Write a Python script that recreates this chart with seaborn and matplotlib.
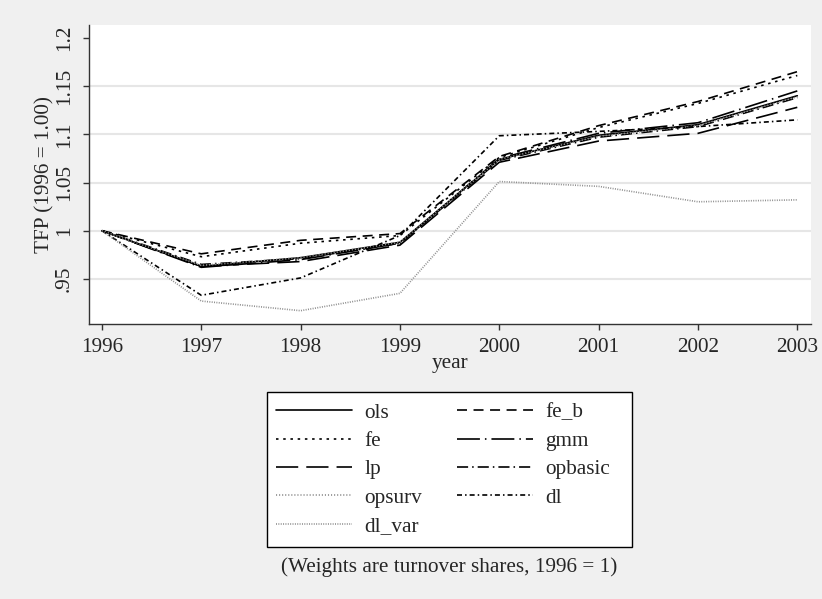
import pandas as pd
import matplotlib.pyplot as plt
import seaborn as sns
from matplotlib.lines import Line2D
from matplotlib.patches import Rectangle

# Данные: индексы TFP по моделям (1996 = 1.00)
years = [1996, 1997, 1998, 1999, 2000, 2001, 2002, 2003]
ols = [1.000, 0.963, 0.972, 0.988, 1.074, 1.099, 1.110, 1.140]
fe_b = [1.000, 0.976, 0.990, 0.997, 1.077, 1.109, 1.134, 1.165]
fe = [1.000, 0.973, 0.987, 0.995, 1.076, 1.107, 1.132, 1.161]
gmm = [1.000, 0.962, 0.970, 0.987, 1.075, 1.101, 1.112, 1.145]
lp = [1.000, 0.963, 0.968, 0.985, 1.071, 1.093, 1.101, 1.128]
opbasic = [1.000, 0.965, 0.971, 0.987, 1.073, 1.097, 1.108, 1.138]
opsurv = [1.000, 0.964, 0.972, 0.988, 1.074, 1.098, 1.109, 1.139]
dl = [1.000, 0.933, 0.951, 0.995, 1.0985, 1.103, 1.108, 1.115]
dl_var = [1.000, 0.927, 0.917, 0.935, 1.051, 1.046, 1.030, 1.032]

series = {'ols': ols, 'fe_b': fe_b, 'fe': fe, 'gmm': gmm, 'lp': lp,
          'opbasic': opbasic, 'opsurv': opsurv, 'dl': dl, 'dl_var': dl_var}
df = pd.DataFrame([[y, k, v] for k, vals in series.items() for y, v in zip(years, vals)],
                  columns=['year', 'model', 'tfp'])

# Стиль линий (в пунктах)
dashes = {'ols': '', 'fe_b': (7.2, 4.7), 'fe': (1.8, 3.4), 'gmm': (16.5, 3.6, 1.1, 3.6),
          'lp': (16, 5.8), 'opbasic': (8, 2.9, 1.1, 2.9), 'opsurv': (0.8, 1.4),
          'dl': (3.6, 2.2, 1.1, 2.2), 'dl_var': (0.7, 1.0)}
colors = {k: 'black' for k in series}
colors['opsurv'] = '#8c8c8c'
colors['dl_var'] = '#8c8c8c'

FS = 15.3

sns.set_theme(style='white')
plt.rcParams['font.family'] = ['Liberation Serif', 'DejaVu Serif']
plt.rcParams['lines.scale_dashes'] = False
plt.rcParams['axes.unicode_minus'] = False

fig = plt.figure(figsize=(8.22, 5.99), dpi=100, facecolor='#f0f0f0')
ax = fig.add_axes([89 / 822, 1 - 324 / 599, (810.7 - 89) / 822, (324 - 25) / 599])
ax.set_facecolor('white')

sns.lineplot(data=df, x='year', y='tfp', hue='model', style='model',
             hue_order=list(series), style_order=list(series),
             palette=colors, dashes=dashes, linewidth=1.2, ax=ax, legend=False)

ax.set_xlim(1995.87, 2003.135)
ax.set_ylim(0.9032, 1.2134)
yt = [0.95, 1.0, 1.05, 1.1, 1.15, 1.2]
ax.set_yticks(yt)
ax.set_yticklabels(['.95', '1', '1.05', '1.1', '1.15', '1.2'], rotation=90, va='center')
ax.set_xticks(years)
ax.set_xticklabels([str(y) for y in years])
ax.tick_params(axis='both', labelsize=FS, length=4, width=1, color='#333333',
               direction='out', left=True, bottom=True)
ax.tick_params(axis='y', pad=7)
ax.tick_params(axis='x', pad=6)
ax.yaxis.grid(True, color='#e6e6e6', linewidth=1.5)
ax.get_ygridlines()[-1].set_visible(False)
ax.set_axisbelow(True)
for s in ['top', 'right']:
    ax.spines[s].set_visible(False)
for s in ['left', 'bottom']:
    ax.spines[s].set_color('#333333')
    ax.spines[s].set_linewidth(1.0)

ax.set_xlabel('year', fontsize=FS, labelpad=-2)
ax.set_ylabel('TFP (1996 = 1.00)', fontsize=FS, labelpad=0)

# Рамка легенды
fig.patches.append(Rectangle((266.7 / 822, 1 - 546.7 / 599), (632.3 - 266.7) / 822,
                             (546.7 - 391.7) / 599, transform=fig.transFigure,
                             facecolor='white', edgecolor='black', linewidth=1.0, zorder=1))

# Легенда: 2 колонки, порядок по строкам
order = ['ols', 'fe', 'lp', 'opsurv', 'dl_var', 'fe_b', 'gmm', 'opbasic', 'dl']
handles = []
for k in order:
    h = Line2D([], [], color=colors[k], linewidth=1.2)
    if dashes[k]:
        h.set_dashes(dashes[k])
    handles.append(h)
leg = fig.legend(handles, order, ncol=2, loc='upper left',
                 bbox_to_anchor=(276 / 822, 1 - 402.7 / 599),
                 frameon=False, fontsize=FS, handlelength=3.56, handletextpad=0.6,
                 columnspacing=1.65, labelspacing=0.40, borderpad=0, borderaxespad=0)
leg.set_zorder(5)

fig.text(449.5 / 822, 1 - 567 / 599, '(Weights are turnover shares, 1996 = 1)',
         ha='center', va='center', fontsize=FS)

fig.savefig('out.png', dpi=100, facecolor=fig.get_facecolor())
plt.close()
